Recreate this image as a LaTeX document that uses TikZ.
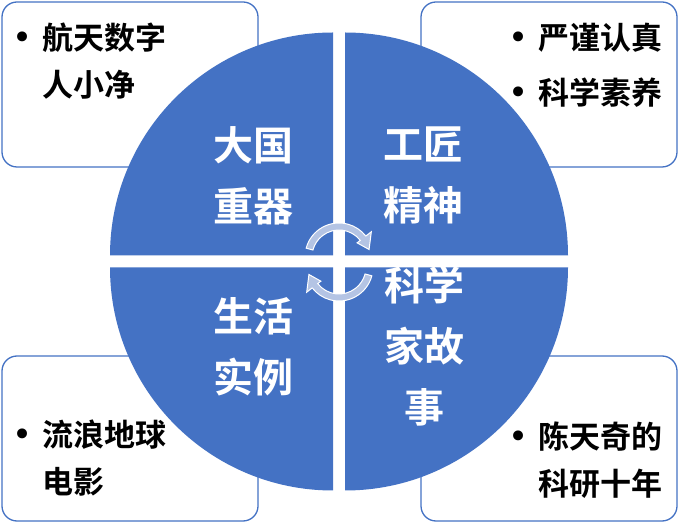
\documentclass[tikz,border=0pt]{standalone}
\usepackage{fontspec}
\newfontfamily\cjk{Noto Sans CJK SC Bold}
\newfontfamily\dotfont{DejaVu Sans}
\newcommand{\notedot}{\makebox[27pt][l]{\hspace*{-3pt}{\dotfont\fontsize{34}{34}\selectfont •}}}
\definecolor{quadblue}{HTML}{4472C4}
\definecolor{arrowgray}{RGB}{180,196,228}
\tikzset{
  notebox/.style={draw=quadblue, line width=1.3pt, fill=white, rounded corners=15pt},
  notetext/.style={anchor=north west, align=left, inner sep=0pt, font=\cjk\fontsize{31}{47}\selectfont},
  quadtext/.style={align=center, inner sep=0pt, text=white, font=\cjk\fontsize{40}{61}\selectfont},
  cyclearrow/.pic={
    \path[fill=arrowgray, draw=white, line width=1pt]
      (165:34) arc[start angle=165, end angle=38, radius=34] -- (38:41) -- (14:31)
      -- (38:23) -- (38:27) arc[start angle=38, end angle=165, radius=27] -- cycle;
  }
}
\begin{document}
\begin{tikzpicture}[x=1pt,y=1pt]
    \useasboundingbox (0,0) rectangle (679,524);
    % corner boxes
    \draw[notebox] (2,357) rectangle (258,522);
    \draw[notebox] (421,357) rectangle (677,522);
    \draw[notebox] (2,3) rectangle (258,168);
    \draw[notebox] (421,3) rectangle (677,168);
    % four quarters of the circle
    \fill[quadblue] (345,268.5) -- ++(0:223) arc[start angle=0, end angle=90, radius=223] -- cycle;
    \fill[quadblue] (333,268.5) -- ++(90:223) arc[start angle=90, end angle=180, radius=223] -- cycle;
    \fill[quadblue] (333,256.5) -- ++(180:223) arc[start angle=180, end angle=270, radius=223] -- cycle;
    \fill[quadblue] (345,256.5) -- ++(270:223) arc[start angle=270, end angle=360, radius=223] -- cycle;
    \node[quadtext] (weapon) at (253.5,348.5) {大国\\重器};
    \node[quadtext] (craft) at (423.5,348.5) {工匠\\精神};
    \node[quadtext] (life) at (253.5,177) {生活\\实例};
    \node[quadtext] (story) at (424,178) {科学\\家故\\事};
    \node[notetext] (spacenote) at (15,501) {\notedot 航天数字\\\hspace*{27pt}人小净};
    \node[notetext] (craftnote) at (511,501) {\notedot 严谨认真\\[8pt]\notedot 科学素养};
    \node[notetext] (filmnote) at (15,104) {\notedot 流浪地球\\\hspace*{27pt}电影};
    \node[notetext] (storynote) at (511,102) {\notedot 陈天奇的\\\hspace*{27pt}科研十年};
    % arrows in the middle
    \pic at (339,267) {cyclearrow};
    \pic[rotate=180] at (339,257) {cyclearrow};
\end{tikzpicture}
\end{document}
